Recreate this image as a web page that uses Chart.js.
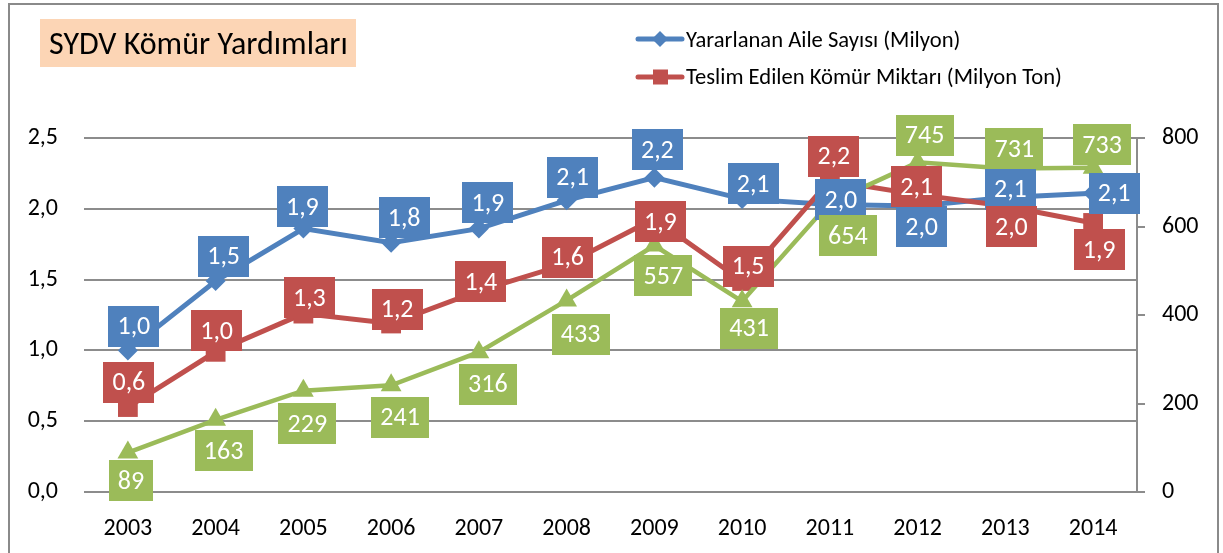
<!DOCTYPE html>
<html>
<head>
<meta charset="utf-8">
<script src="https://cdn.jsdelivr.net/npm/chart.js@4.4.1/dist/chart.umd.min.js"></script>
<style>
  html, body { margin: 0; padding: 0; background: #fff; }
  #c { display: block; }
</style>
</head>
<body>
<canvas id="c" width="1223" height="553"></canvas>
<script>
// ---- data ----
const years = ['2003','2004','2005','2006','2007','2008','2009','2010','2011','2012','2013','2014'];
const aileSayisi = [1.00, 1.49, 1.86, 1.76, 1.86, 2.06, 2.22, 2.07, 2.03, 2.02, 2.08, 2.11];
const komurMiktari = [0.60, 0.99, 1.26, 1.19, 1.42, 1.61, 1.93, 1.49, 2.20, 2.10, 2.02, 1.90];
const komurBinTon = [89, 163, 229, 241, 316, 433, 557, 431, 654, 745, 731, 733];
const leftTicks = [0, 0.5, 1.0, 1.5, 2.0, 2.5];
const rightTicks = [0, 200, 400, 600, 800];
const titleText = 'SYDV Kömür Yardımları';
const seriesNames = ['Yararlanan Aile Sayısı (Milyon)', 'Teslim Edilen Kömür Miktarı (Milyon Ton)', 'Kömür (Bin Ton)'];

// ---- label placement (style) ----
const labelOffsets = [
  [[6,-24],[8,-25],[-1,-22],[13,-25],[9,-26],[6,-23],[3,-28],[11,-15],[11,-5],[4,21],[5,-8],[21,0]],
  [[1,-25],[1,-21],[6,-16],[6,-14],[2,-9],[1,-7],[6,3],[6,-15],[4,-24],[-1,-8],[6,21],[6,27]],
  [[3,28],[8,31],[4,33],[9,32],[9,32],[14,34],[9,30],[7,27],[18,33],[7,-27],[9,-20],[9,-23]]
];

const BLUE = '#4F81BD', RED = '#C0504D', GREEN = '#9BBB59';
const FONT = 'Carlito, Lato, sans-serif';
const GRID = '#8c8c8c';

const fmt1 = v => v.toFixed(1).replace('.', ',');

const boxLabels = {
  id: 'boxLabels',
  afterDatasetsDraw(chart) {
    const ctx = chart.ctx;
    ctx.save();
    ctx.font = '26px ' + FONT;
    ctx.textAlign = 'center';
    ctx.textBaseline = 'alphabetic';
    chart.data.datasets.forEach((ds, di) => {
      const meta = chart.getDatasetMeta(di);
      meta.data.forEach((pt, i) => {
        const v = ds.data[i];
        const txt = di === 2 ? String(v) : fmt1(v);
        const [dx, dy] = labelOffsets[di][i];
        const w = Math.round(ctx.measureText(txt).width + 18), h = 41;
        const cx = pt.x + dx, cy = pt.y + dy;
        ctx.fillStyle = ds.borderColor;
        ctx.fillRect(Math.round(cx - w / 2), Math.round(cy - h / 2), w, h);
        ctx.fillStyle = '#ffffff';
        ctx.fillText(txt, cx, Math.round(cy + 8));
      });
    });
    ctx.restore();
  }
};

const decor = {
  id: 'decor',
  afterDraw(chart) {
    const ctx = chart.ctx;
    ctx.save();
    // outer border
    ctx.strokeStyle = '#8a8a8a';
    ctx.lineWidth = 2;
    ctx.strokeRect(9, 4, 1209, 560);
    // title box
    ctx.fillStyle = '#FCD5B5';
    ctx.fillRect(40, 19, 316, 48);
    ctx.fillStyle = '#000';
    ctx.font = '32px ' + FONT;
    ctx.textAlign = 'left';
    ctx.textBaseline = 'alphabetic';
    ctx.fillText(titleText, 49, 54);
    // legend
    const rows = [{y: 39, base: 47, color: BLUE, shape: 'diamond', text: chart.data.datasets[0].label},
                  {y: 77, base: 84, color: RED, shape: 'square', text: chart.data.datasets[1].label}];
    ctx.font = '22.6px ' + FONT;
    rows.forEach(r => {
      ctx.strokeStyle = r.color;
      ctx.lineWidth = 5;
      ctx.lineCap = 'round';
      ctx.beginPath();
      ctx.moveTo(638, r.y);
      ctx.lineTo(682, r.y);
      ctx.stroke();
      ctx.fillStyle = r.color;
      ctx.beginPath();
      if (r.shape === 'diamond') {
        ctx.moveTo(660, r.y - 8); ctx.lineTo(668, r.y); ctx.lineTo(660, r.y + 8); ctx.lineTo(652, r.y);
        ctx.closePath();
        ctx.fill();
      } else {
        ctx.fillRect(653, r.y - 7.5, 15, 15);
      }
      ctx.fillStyle = '#000';
      ctx.fillText(r.text, 686, r.base);
    });
    ctx.restore();
  }
};

new Chart(document.getElementById('c'), {
  type: 'line',
  data: {
    labels: years,
    datasets: [
      { label: seriesNames[0], data: aileSayisi, yAxisID: 'y', borderColor: BLUE, backgroundColor: BLUE,
        borderWidth: 5, pointStyle: 'rectRot', pointRadius: 10, pointBorderWidth: 0, tension: 0, order: 3 },
      { label: seriesNames[1], data: komurMiktari, yAxisID: 'y', borderColor: RED, backgroundColor: RED,
        borderWidth: 5, pointStyle: 'rect', pointRadius: 14, pointBorderWidth: 0, tension: 0, order: 2 },
      { label: seriesNames[2], data: komurBinTon, yAxisID: 'y1', borderColor: GREEN, backgroundColor: GREEN,
        borderWidth: 4.5, pointStyle: 'triangle', pointRadius: 12, pointBorderWidth: 0, tension: 0, order: 1 }
    ]
  },
  options: {
    responsive: false,
    animation: false,
    devicePixelRatio: 1,
    layout: { padding: { top: 138, left: 0, right: 0, bottom: 0 } },
    plugins: { legend: { display: false }, title: { display: false }, tooltip: { enabled: false } },
    scales: {
      x: {
        type: 'category',
        offset: true,
        grid: { display: false },
        border: { display: false },
        ticks: { color: '#000', font: { family: FONT, size: 24 }, padding: 15, maxRotation: 0 },
        afterFit(s) { s.height = 61; }
      },
      y: {
        position: 'left',
        min: 0, max: 2.5,
        afterBuildTicks(s) { s.ticks = leftTicks.map(v => ({ value: v })); },
        grid: { color: GRID, lineWidth: 2, drawTicks: false },
        border: { display: false },
        ticks: { color: '#000', font: { family: FONT, size: 24 }, padding: 26, callback: v => fmt1(v) },
        afterFit(s) { s.width = 84; }
      },
      y1: {
        position: 'right',
        min: 0, max: 800,
        afterBuildTicks(s) { s.ticks = rightTicks.map(v => ({ value: v })); },
        grid: { drawOnChartArea: false, drawTicks: true, tickLength: 8, color: GRID, lineWidth: 2 },
        border: { display: true, color: GRID, width: 2 },
        ticks: { color: '#000', font: { family: FONT, size: 24 }, padding: 17, callback: v => String(v) },
        afterFit(s) { s.width = 86; }
      }
    }
  },
  plugins: [boxLabels, decor]
});
</script>
</body>
</html>
